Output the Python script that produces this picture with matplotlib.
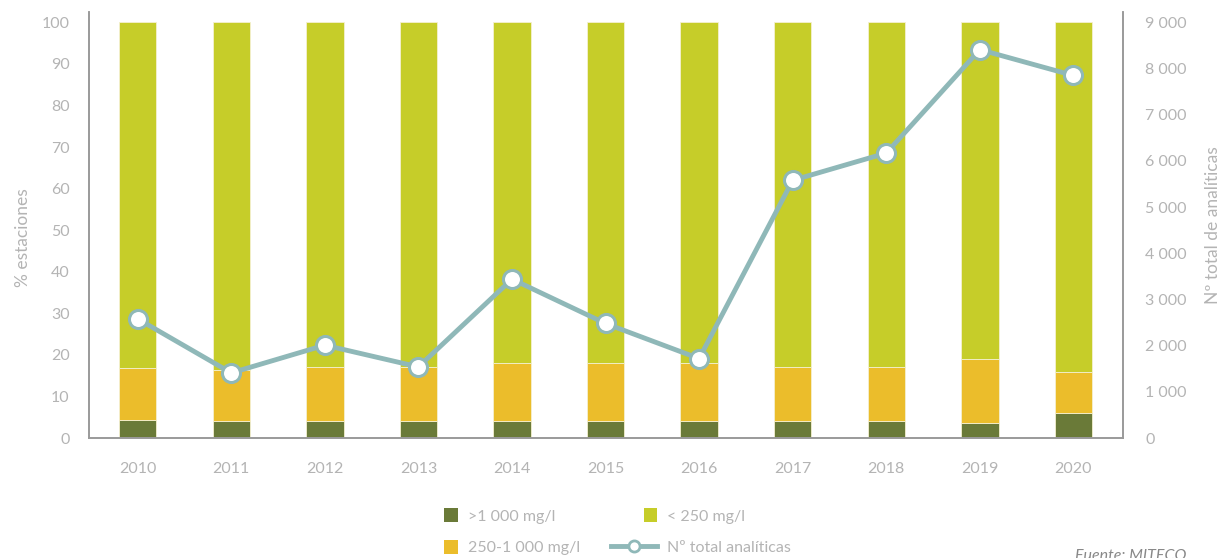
import matplotlib
matplotlib.use("Agg")
import matplotlib.pyplot as plt
import numpy as np
from matplotlib.patches import Patch, Rectangle
from matplotlib.lines import Line2D
from matplotlib.legend_handler import HandlerPatch

years = ["2010", "2011", "2012", "2013", "2014", "2015", "2016", "2017", "2018", "2019", "2020"]
alto = [4.4, 4.0, 4.2, 4.2, 4.1, 4.2, 4.0, 4.0, 4.0, 3.5, 5.9]          # >1000 mg/l
medio = [12.4, 12.3, 12.8, 12.9, 13.9, 13.8, 14.0, 13.2, 13.2, 15.4, 9.9]  # 250-1000 mg/l
total_analiticas = [2580, 1410, 2010, 1540, 3440, 2480, 1720, 5580, 6170, 8410, 7850]

bajo = [100 - a - m for a, m in zip(alto, medio)]  # <250 mg/l, rest up to 100 %

c_alto = "#6a7a38"
c_medio = "#ebbd2b"
c_bajo = "#c6cd29"
c_line = "#8fb8b8"
c_text = "#b4b4b4"
c_spine = "#9a9a9a"

plt.rcParams['font.family'] = ['Lato', 'DejaVu Sans']
fs = 11.5

fig = plt.figure(figsize=(12.25, 5.58), dpi=100)
ax = fig.add_axes([89 / 1225, 1 - 438 / 558, (1123 - 89) / 1225, (438 - 12) / 558])
ax2 = ax.twinx()

x = np.arange(len(years))
w = 0.40
edge = dict(edgecolor="#f4f0d0", linewidth=0.6)
ax.bar(x, alto, w, color=c_alto, **edge)
ax.bar(x, medio, w, bottom=alto, color=c_medio, **edge)
ax.bar(x, bajo, w, bottom=[a + m for a, m in zip(alto, medio)], color=c_bajo, **edge)

ax2.plot(x, total_analiticas, color=c_line, linewidth=3.5, marker="o", markersize=13,
         markerfacecolor="white", markeredgecolor=c_line, markeredgewidth=2.2, zorder=5)

ax.set_xlim(-0.52, len(years) - 1 + 0.53)
ax.set_ylim(0, 102.5)
ax2.set_ylim(0, 9225)
ax.set_yticks(range(0, 101, 10))
ax2.set_yticks(range(0, 9001, 1000))
ax2.set_yticklabels(["0"] + ["{} 000".format(i) for i in range(1, 10)])
ax.set_xticks(x)
ax.set_xticklabels(years)

for a in (ax, ax2):
    a.spines["top"].set_visible(False)
    for s in ("left", "right", "bottom"):
        a.spines[s].set_color(c_spine)
        a.spines[s].set_linewidth(1.2)
    a.tick_params(length=0, labelcolor=c_text, labelsize=fs)
ax.tick_params(axis="y", pad=14)
ax.tick_params(axis="x", pad=17)
ax2.tick_params(axis="y", pad=16)

ax.set_ylabel("% estaciones", color=c_text, fontsize=12.5)
ax.yaxis.set_label_coords(-0.056, 0.47)
ax2.set_ylabel("Nº total de analíticas", color=c_text, fontsize=12.5, labelpad=13)


def square(legend, orig_handle, xdescent, ydescent, width, height, fontsize):
    s = 10
    return Rectangle((width - s - xdescent, -ydescent + (height - s) / 2), s, s)


handles = [
    Patch(facecolor=c_alto, label=">1 000 mg/l"),
    Patch(facecolor=c_medio, label="250-1 000 mg/l"),
    Patch(facecolor=c_bajo, label="< 250 mg/l"),
    Line2D([0], [0], color=c_line, linewidth=3.5, marker="o", markersize=8,
           markerfacecolor="white", markeredgecolor=c_line, markeredgewidth=2,
           label="Nº total analíticas"),
]
leg = fig.legend(handles=handles, ncol=2, loc="upper left", bbox_to_anchor=(404 / 1225, 1 - 500 / 558),
                 frameon=False, fontsize=fs, handlelength=2.9, handleheight=1.0,
                 columnspacing=1.95, labelspacing=1.0, handletextpad=0.6, borderpad=0,
                 handler_map={Patch: HandlerPatch(patch_func=square)})
for t in leg.get_texts():
    t.set_color(c_text)

fig.text(1075 / 1225, 1 - 549 / 558, "Fuente: MITECO", color="#888888", fontsize=fs,
         style="italic", va="top", ha="left")

fig.savefig("out.png", dpi=100)
